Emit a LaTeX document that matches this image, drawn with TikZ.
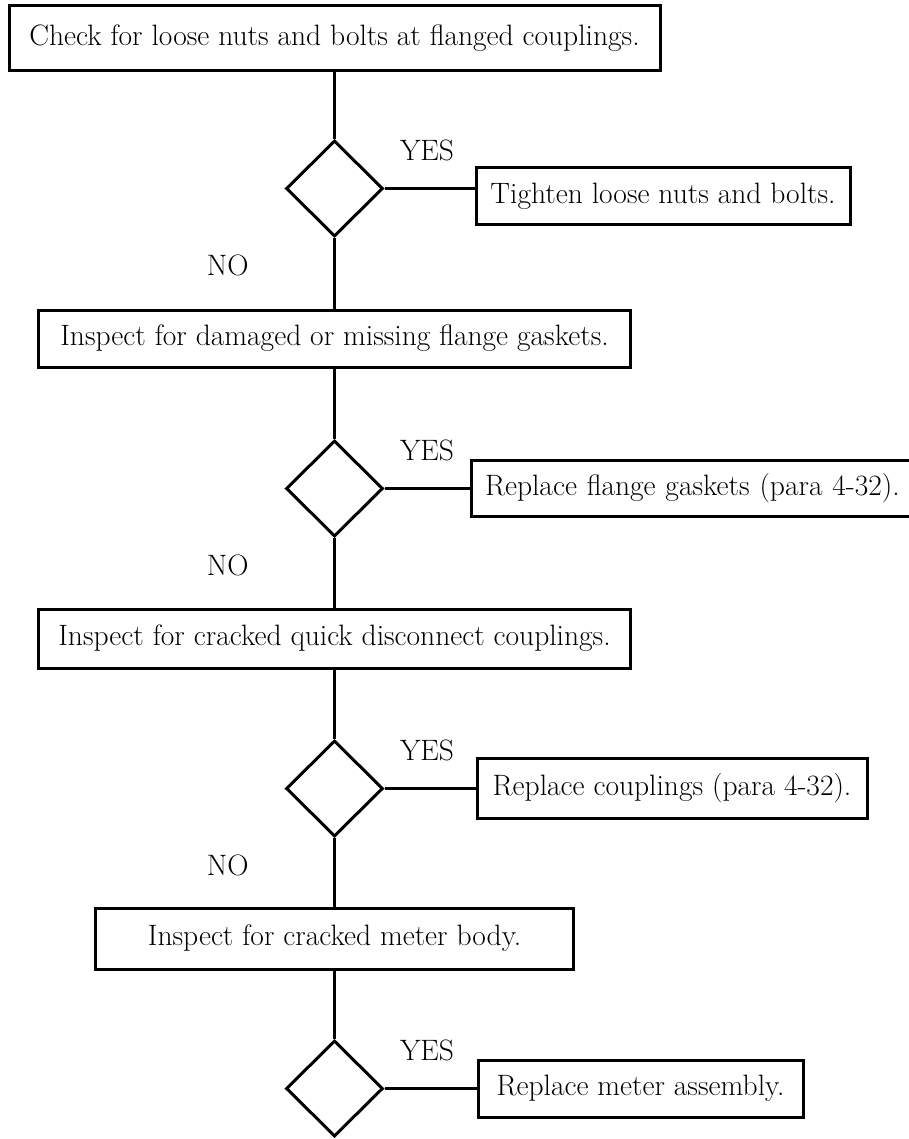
\documentclass[tikz,border=0pt]{standalone}
\usetikzlibrary{shapes.geometric,positioning}

\begin{document}
\begin{tikzpicture}[x=1pt, y=-1pt, node distance=150pt, line width=3pt,
        font=\fontsize{29.5}{34}\selectfont,
        chk/.style={draw, inner sep=0pt, align=center},
        dec/.style={draw, diamond, minimum width=97pt, minimum height=96pt, inner sep=0pt},
        lbl/.style={inner sep=0pt}]
                \useasboundingbox (0,0) rectangle (909,1139);

                \node (P1) [chk, minimum width=651pt, minimum height=65pt] at (334.5,38.5)
                {Check for loose nuts and bolts at flanged couplings.};
                \node (D1) [dec, below of=P1] {};
                \node (P2) [chk, minimum width=592pt, minimum height=57pt, below of=D1]
                {Inspect for damaged or missing flange gaskets.};
                \node (D2) [dec, below of=P2] {};
                \node (P3) [chk, minimum width=592pt, minimum height=59pt, below of=D2]
                {Inspect for cracked quick disconnect couplings.};
                \node (D3) [dec, below of=P3] {};
                \node (P4) [chk, minimum width=478pt, minimum height=61pt, below of=D3]
                {Inspect for cracked meter body.};
                \node (D4) [dec, below of=P4] {};

                \node (R1) [chk, minimum width=374pt, minimum height=57pt, right=90pt of D1, yshift=-7.5pt]
                {Tighten loose nuts and bolts.};
                \node (R2) [chk, minimum width=450pt, minimum height=56pt, text width=422pt, align=left, right=85pt of D2]
                {Replace flange gaskets (para 4-32).};
                \node (R3) [chk, minimum width=390pt, minimum height=60pt, right=91pt of D3]
                {Replace couplings (para 4-32).};
                \node (R4) [chk, minimum width=325pt, minimum height=57pt, right=92pt of D4]
                {Replace meter assembly.};

                \node (Y1) [lbl, above right=26pt and 14pt of D1.east] {YES};
                \node (Y2) [lbl, above right=26pt and 14pt of D2.east] {YES};
                \node (Y3) [lbl, above right=26pt and 14pt of D3.east] {YES};
                \node (Y4) [lbl, above right=26pt and 14pt of D4.east] {YES};
                \node (N1) [lbl, below left=15pt and 84.5pt of D1.south] {NO};
                \node (N2) [lbl, below left=15pt and 84.5pt of D2.south] {NO};
                \node (N3) [lbl, below left=15pt and 84.5pt of D3.south] {NO};

                \draw (P1) -- (D1);
                \draw (D1) -- (P2);
                \draw (P2) -- (D2);
                \draw (D2) -- (P3);
                \draw (P3) -- (D3);
                \draw (D3) -- (P4);
                \draw (P4) -- (D4);
                \draw (D1.east) -- (D1.east -| R1.west);
                \draw (D2) -- (R2);
                \draw (D3) -- (R3);
                \draw (D4) -- (R4);
            \end{tikzpicture}
\end{document}
